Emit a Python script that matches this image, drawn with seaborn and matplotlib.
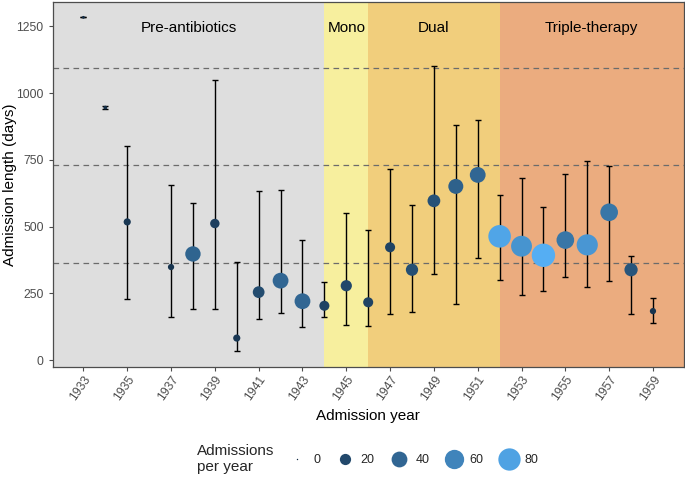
import numpy as np
import pandas as pd
import matplotlib
matplotlib.use("Agg")
import matplotlib.pyplot as plt
from matplotlib.colors import LinearSegmentedColormap
from matplotlib.lines import Line2D
import seaborn as sns

# admission length per year: median and error range (days), number of admissions
years = [1933, 1934, 1935, 1937, 1938, 1939, 1940, 1941, 1942, 1943, 1944, 1945, 1946,
         1947, 1948, 1949, 1950, 1951, 1952, 1953, 1954, 1955, 1956, 1957, 1958, 1959]
median_days = [1284, 946, 518, 349, 398, 512, 83, 255, 298, 221, 204, 279, 217,
               423, 339, 597, 651, 694, 464, 427, 393, 450, 432, 554, 339, 184]
lower_days = [1284, 940, 230, 161, 190, 190, 34, 155, 178, 124, 163, 132, 128,
              175, 181, 324, 211, 384, 300, 244, 258, 313, 274, 298, 174, 138]
upper_days = [1284, 952, 801, 656, 588, 1050, 369, 632, 639, 449, 292, 553, 488,
              716, 583, 1102, 882, 898, 620, 684, 574, 698, 746, 726, 392, 233]
admissions = [1, 2, 8, 6, 38, 14, 8, 22, 40, 40, 16, 20, 16,
              16, 24, 26, 36, 40, 82, 70, 88, 50, 72, 50, 28, 6]

eras = ["Pre-antibiotics", "Mono", "Dual", "Triple-therapy"]
era_starts = [1931.6, 1944, 1946, 1952]
era_ends = [1944, 1946, 1952, 1960.4]
era_colors = ["#DEDEDE", "#F7EF9E", "#F1CE7C", "#EBAC7F"]

threshold_days = [365, 730, 1095]
legend_counts = [0, 20, 40, 60, 80]

df = pd.DataFrame({
    "year": years,
    "median": median_days,
    "lower": lower_days,
    "upper": upper_days,
    "n": admissions,
})

sns.set_style("white")
plt.rcParams["font.family"] = ["Liberation Sans", "DejaVu Sans"]

cmap = LinearSegmentedColormap.from_list("gg", ["#132B43", "#56B1F7"])
count_norm = (0, 90)
size_range = (1, 290)

fig, ax = plt.subplots(figsize=(6.85, 4.79), dpi=100)
fig.subplots_adjust(left=0.077, right=0.998, top=0.995, bottom=0.234)

for start, end, col, name in zip(era_starts, era_ends, era_colors, eras):
    ax.axvspan(start, end, color=col, lw=0, zorder=0)
    ax.text((start + end) / 2, 1245, name, ha="center", va="center",
            fontsize=11, color="black", zorder=1)

for d in threshold_days:
    ax.axhline(d, color="#6b6b6b", lw=0.9, ls=(0, (4.5, 3.5)), zorder=1)

ax.errorbar(df["year"], df["median"],
            yerr=[df["median"] - df["lower"], df["upper"] - df["median"]],
            fmt="none", ecolor="black", elinewidth=1.0, capsize=2.2,
            capthick=1.0, zorder=2)

sns.scatterplot(data=df, x="year", y="median", hue="n", size="n",
                palette=cmap, hue_norm=count_norm,
                sizes=size_range, size_norm=count_norm,
                linewidth=0, legend=False, ax=ax, zorder=3)

ax.set_xlim(1931.6, 1960.4)
ax.set_ylim(-25, 1340)
ax.set_xticks(range(1933, 1960, 2))
ax.set_yticks([0, 250, 500, 750, 1000, 1250])
ax.tick_params(axis="both", colors="#4D4D4D", labelsize=8.8, length=3,
               width=0.8, bottom=True, left=True)
ax.tick_params(axis="x", pad=2)
plt.setp(ax.get_xticklabels(), rotation=55, ha="right", va="top",
         rotation_mode="anchor")
ax.set_xlabel("Admission year", fontsize=11, color="black")
ax.set_ylabel("Admission length (days)", fontsize=11, color="black")
ax.yaxis.set_label_coords(-0.057, 0.5)
for sp in ax.spines.values():
    sp.set_color("#4D4D4D")
    sp.set_linewidth(0.9)

# legend
handles = []
for c in legend_counts:
    s = size_range[0] + (size_range[1] - size_range[0]) * c / count_norm[1]
    handles.append(Line2D([], [], marker="o", linestyle="", markersize=np.sqrt(s),
                          markerfacecolor=cmap(c / count_norm[1]), markeredgewidth=0))
fig.legend(handles, [str(c) for c in legend_counts], ncol=5, frameon=False,
           loc="center left", bbox_to_anchor=(283 / 685, 1 - 460 / 479),
           bbox_transform=fig.transFigure, fontsize=9, handlelength=1.25,
           handletextpad=0.65, columnspacing=1.35, borderpad=0)
fig.text(197 / 685, 1 - 459 / 479, "Admissions\nper year", ha="left",
         va="center", fontsize=11, linespacing=1.1)

plt.savefig("out.png", dpi=100)
